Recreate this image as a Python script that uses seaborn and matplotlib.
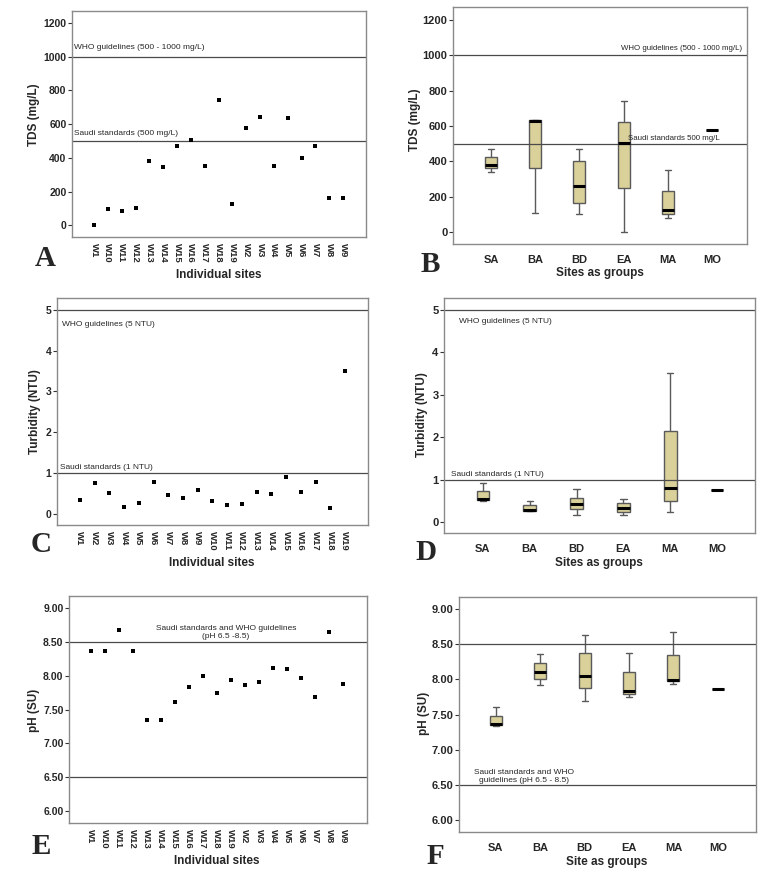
import numpy as np
import pandas as pd
import matplotlib
matplotlib.use("Agg")
import matplotlib.pyplot as plt
import seaborn as sns

# ---------------- data ----------------
sites_alpha = ["W1", "W10", "W11", "W12", "W13", "W14", "W15", "W16", "W17", "W18",
               "W19", "W2", "W3", "W4", "W5", "W6", "W7", "W8", "W9"]
tds_values = [0, 99, 83, 105, 380, 345, 469, 505, 350, 745,
              123, 578, 642, 354, 636, 402, 473, 160, 160]

sites_num = ["W1", "W2", "W3", "W4", "W5", "W6", "W7", "W8", "W9", "W10",
             "W11", "W12", "W13", "W14", "W15", "W16", "W17", "W18", "W19"]
turbidity_values = [0.34, 0.76, 0.51, 0.17, 0.28, 0.78, 0.47, 0.39, 0.58, 0.32,
                    0.23, 0.25, 0.53, 0.50, 0.90, 0.54, 0.78, 0.15, 3.51]

ph_values = [8.37, 8.37, 8.68, 8.36, 7.35, 7.34, 7.61, 7.83, 7.99, 7.74,
             7.93, 7.87, 7.91, 8.12, 8.10, 7.96, 7.69, 8.64, 7.88]

groups = ["SA", "BA", "BD", "EA", "MA", "MO"]
# five-number summaries per group (min, Q1, median, Q3, max); MO is a single site
tds_groups = [[341, 360, 380, 424, 469],
              [105, 365, 631, 634, 636],
              [102, 164, 260, 401, 471],
              [0, 252, 503, 622, 744],
              [79, 102, 122, 234, 349],
              [578]]
turbidity_groups = [[0.50, 0.51, 0.53, 0.72, 0.91],
                    [0.25, 0.26, 0.28, 0.39, 0.50],
                    [0.17, 0.31, 0.43, 0.57, 0.78],
                    [0.16, 0.24, 0.34, 0.45, 0.54],
                    [0.24, 0.50, 0.79, 2.14, 3.52],
                    [0.76]]
ph_groups = [[7.34, 7.345, 7.36, 7.48, 7.61],
             [7.92, 8.00, 8.10, 8.23, 8.36],
             [7.69, 7.88, 8.05, 8.38, 8.63],
             [7.75, 7.79, 7.83, 8.10, 8.37],
             [7.94, 7.97, 7.99, 8.34, 8.68],
             [7.87]]

# ---------------- style ----------------
sns.set_theme(style="white")
plt.rcParams['font.family'] = ['Liberation Sans', 'DejaVu Sans']
plt.rcParams['axes.edgecolor'] = '#8a8a8a'
plt.rcParams['axes.linewidth'] = 1.0

BOX_FILL = "#d9d09a"
BOX_EDGE = "#5a5a5a"
REF = "#4a4a4a"

fig = plt.figure(figsize=(7.68, 8.81), dpi=100)

axA = fig.add_axes([0.09375, 0.7310, 0.3828, 0.2565])
axB = fig.add_axes([0.5898, 0.7230, 0.3828, 0.2690])
axC = fig.add_axes([0.0742, 0.4041, 0.4049, 0.2577])
axD = fig.add_axes([0.5781, 0.3950, 0.4049, 0.2667])
axE = fig.add_axes([0.0898, 0.0658, 0.3880, 0.2577])
axF = fig.add_axes([0.5977, 0.0556, 0.3867, 0.2667])

rect_marker = [(-1, -0.75), (1, -0.75), (1, 0.75), (-1, 0.75), (-1, -0.75)]


def scatter_panel(ax, sites, values):
    df = pd.DataFrame({"site": sites, "value": values})
    sns.stripplot(data=df, x="site", y="value", order=sites, jitter=False,
                  marker=rect_marker, size=3.0, color="black", linewidth=0, ax=ax)
    ax.tick_params(axis="x", labelrotation=270, labelsize=6.8, length=3,
                   width=0.8, color="#333333", pad=1)
    for lab in ax.get_xticklabels():
        lab.set_fontweight("bold")
        lab.set_va("top")
        lab.set_ha("center")


def box_panel(ax, summaries):
    rows = []
    for g, vals in zip(groups, summaries):
        for v in vals:
            rows.append((g, v))
    df = pd.DataFrame(rows, columns=["group", "value"])
    sns.boxplot(data=df, x="group", y="value", order=groups, width=0.27,
                whis=(0, 100), showfliers=False, color=BOX_FILL,
                linecolor=BOX_EDGE, linewidth=1.0, saturation=1,
                medianprops=dict(color="black", linewidth=2.2), ax=ax)
    ax.tick_params(axis="x", labelsize=8, length=0, pad=8)
    for lab in ax.get_xticklabels():
        lab.set_fontweight("bold")


def common(ax, ylabel, xlabel, ylim, xlim, yticks, ytickfmt, ysize,
           xlab_coords, ylab_coords, letter, letter_xy):
    ax.set_ylim(*ylim)
    ax.set_xlim(*xlim)
    ax.set_yticks(yticks)
    ax.set_yticklabels([ytickfmt.format(t) for t in yticks], fontweight="bold",
                       fontsize=ysize)
    ax.tick_params(axis="y", length=3, width=0.8, color="#333333", pad=1,
                   left=True)
    ax.set_ylabel(ylabel, fontsize=8.5, fontweight="bold")
    ax.set_xlabel(xlabel, fontsize=8.5, fontweight="bold")
    ax.xaxis.set_label_coords(*xlab_coords)
    ax.yaxis.set_label_coords(*ylab_coords)
    for s in ax.spines.values():
        s.set_visible(True)
        s.set_color("#8a8a8a")
    fig.text(letter_xy[0] / 768, 1 - letter_xy[1] / 881, letter,
             family=["Liberation Serif", "DejaVu Serif"], fontweight="bold",
             fontsize=21, ha="center", va="center")


# ---------- A ----------
scatter_panel(axA, sites_alpha, tds_values)
common(axA, "TDS (mg/L)", "Individual sites", (-70, 1272), (-1.6, 19.66),
       [0, 200, 400, 600, 800, 1000, 1200], "{:.0f}", 7.5,
       (0.5, -0.142), (-0.109, 0.54), "A", (45, 258))
axA.axhline(1000, color=REF, lw=0.9)
axA.axhline(500, color=REF, lw=0.9)
axA.text(0.006, 1045, "WHO guidelines (500 - 1000 mg/L)",
         transform=axA.get_yaxis_transform(), fontsize=6, va="baseline")
axA.text(0.006, 536, "Saudi standards (500 mg/L)",
         transform=axA.get_yaxis_transform(), fontsize=6, va="baseline")

# ---------- B ----------
box_panel(axB, tds_groups)
common(axB, "TDS (mg/L)", "Sites as groups", (-68, 1274), (-0.86, 5.79),
       [0, 200, 400, 600, 800, 1000, 1200], "{:.0f}", 8,
       (0.5, -0.097), (-0.109, 0.523), "B", (430, 264))
axB.axhline(1000, color=REF, lw=0.9)
axB.axhline(500, color=REF, lw=0.9)
axB.text(0.984, 1032, "WHO guidelines (500 - 1000 mg/L)",
         transform=axB.get_yaxis_transform(), fontsize=5.7, va="baseline",
         ha="right")
axB.text(0.597, 521, "Saudi standards 500 mg/L",
         transform=axB.get_yaxis_transform(), fontsize=5.7, va="baseline")

# ---------- C ----------
scatter_panel(axC, sites_num, turbidity_values)
common(axC, "Turbidity (NTU)", "Individual sites", (-0.27, 5.29), (-1.56, 19.56),
       [0, 1, 2, 3, 4, 5], "{:.0f}", 7.5,
       (0.498, -0.141), (-0.051, 0.499), "C", (41, 545))
axC.axhline(5, color=REF, lw=0.9)
axC.axhline(1, color=REF, lw=0.9)
axC.text(0.016, 4.615, "WHO guidelines (5 NTU)",
         transform=axC.get_yaxis_transform(), fontsize=6, va="baseline")
axC.text(0.010, 1.09, "Saudi standards (1 NTU)",
         transform=axC.get_yaxis_transform(), fontsize=6, va="baseline")

# ---------- D ----------
box_panel(axD, turbidity_groups)
common(axD, "Turbidity (NTU)", "Sites as groups", (-0.26, 5.28), (-0.83, 5.81),
       [0, 1, 2, 3, 4, 5], "{:.0f}", 8,
       (0.498, -0.102), (-0.051, 0.502), "D", (426, 553))
axD.axhline(5, color=REF, lw=0.9)
axD.axhline(1, color=REF, lw=0.9)
axD.text(0.048, 4.686, "WHO guidelines (5 NTU)",
         transform=axD.get_yaxis_transform(), fontsize=6, va="baseline")
axD.text(0.022, 1.087, "Saudi standards (1 NTU)",
         transform=axD.get_yaxis_transform(), fontsize=6, va="baseline")

# ---------- E ----------
scatter_panel(axE, sites_alpha, ph_values)
common(axE, "pH (SU)", "Individual sites", (5.82, 9.18), (-1.57, 19.71),
       [6.0, 6.5, 7.0, 7.5, 8.0, 8.5, 9.0], "{:.2f}", 7.5,
       (0.497, -0.143), (-0.097, 0.498), "E", (41, 847))
axE.axhline(8.5, color=REF, lw=0.9)
axE.axhline(6.5, color=REF, lw=0.9)
axE.text(9.64, 8.555, "Saudi standards and WHO guidelines\n(pH 6.5 -8.5)",
         fontsize=6, va="baseline", ha="center", multialignment="center",
         linespacing=1.15)

# ---------- F ----------
box_panel(axF, ph_groups)
common(axF, "pH (SU)", "Site as groups", (5.83, 9.17), (-0.83, 5.86),
       [6.0, 6.5, 7.0, 7.5, 8.0, 8.5, 9.0], "{:.2f}", 8,
       (0.498, -0.104), (-0.098, 0.506), "F", (435, 857))
axF.axhline(8.5, color=REF, lw=0.9)
axF.axhline(6.5, color=REF, lw=0.9)
axF.text(0.63, 6.547, "Saudi standards and WHO\nguidelines (pH 6.5 - 8.5)",
         fontsize=6, va="baseline", ha="center", multialignment="center",
         linespacing=1.15)

fig.savefig("out.png", dpi=100)
